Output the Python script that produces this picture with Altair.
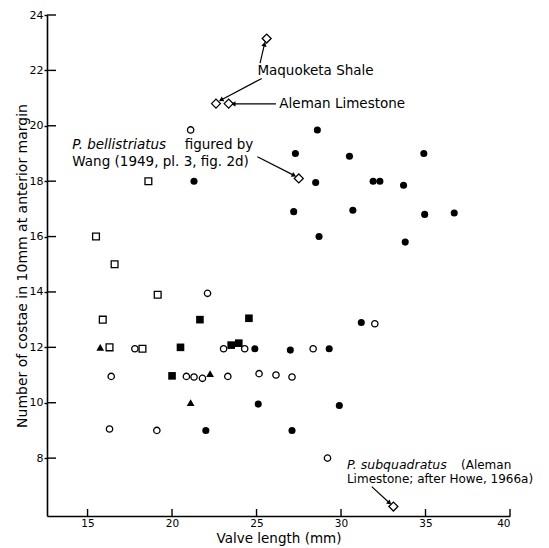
import math
import altair as alt
import pandas as pd

# ---------------- data (valve length mm, costae per 10 mm) ----------------
filled_circle_x = [21.3, 28.6, 27.3, 30.5, 34.9, 28.5, 31.9, 32.3, 33.7, 27.2, 30.7, 34.95, 36.7,
                   28.7, 33.8, 24.9, 27.0, 29.3, 31.2, 25.1, 29.9, 22.0, 27.1]
filled_circle_y = [18.0, 19.85, 19.0, 18.9, 19.0, 17.95, 18.0, 18.0, 17.85, 16.9, 16.95, 16.8, 16.85,
                   16.0, 15.8, 11.95, 11.9, 11.95, 12.9, 9.95, 9.9, 9.0, 9.0]

open_circle_x = [21.1, 22.1, 17.8, 23.05, 24.3, 28.35, 16.4, 20.85, 21.3, 21.8, 23.3, 25.15, 26.15,
                 27.1, 32.0, 16.3, 19.1, 29.2]
open_circle_y = [19.85, 13.95, 11.95, 11.95, 11.95, 11.95, 10.95, 10.95, 10.93, 10.88, 10.95, 11.05, 11.0,
                 10.93, 12.85, 9.05, 9.0, 8.0]

open_square_x = [18.6, 15.5, 16.6, 19.15, 15.9, 16.3, 18.25]
open_square_y = [18.0, 16.0, 15.0, 13.9, 13.0, 12.0, 11.95]

filled_square_x = [21.65, 24.55, 20.5, 23.5, 23.95, 20.0]
filled_square_y = [13.0, 13.05, 12.0, 12.08, 12.15, 10.97]

triangle_x = [15.75, 22.25, 21.1]
triangle_y = [12.0, 11.05, 10.0]

diamond_x = [25.6, 22.6, 23.35, 27.5, 33.1]
diamond_y = [23.15, 20.8, 20.8, 18.1, 6.25]

x_ticks = [15, 20, 25, 30, 35, 40]
y_ticks = [8, 10, 12, 14, 16, 18, 20, 22, 24]

# annotations (anchored in data coordinates)
note_text = ["Maquoketa Shale", "Aleman Limestone", "figured by", "Wang (1949, pl. 3, fig. 2d)"]
note_x = [25.05, 26.35, 20.75, 14.1]
note_y = [21.98, 20.8, 19.3, 18.68]
italic_text = ["P. bellistriatus"]
italic_x = [14.1]
italic_y = [19.3]

small_text = ["(Aleman", "Limestone; after Howe, 1966a)"]
small_x = [37.1, 30.35]
small_y = [7.75, 7.24]
small_italic_text = ["P. subquadratus"]
small_italic_x = [30.35]
small_italic_y = [7.75]

arrow_x1 = [25.21, 25.31, 26.15, 25.05, 31.82]
arrow_y1 = [22.26, 21.71, 20.79, 18.88, 6.97]
arrow_x2 = [25.47, 22.9, 23.62, 27.22, 32.87]
arrow_y2 = [22.95, 20.93, 20.79, 18.21, 6.38]

# ---------------- layout ----------------
W, H = 463, 501
XDOM = [12.6, 40]
YDOM = [5.91, 24]
FONT = "DejaVu Sans"

xs = alt.Scale(domain=XDOM, nice=False, zero=False)
ys = alt.Scale(domain=YDOM, nice=False, zero=False)

px_x = W / (XDOM[1] - XDOM[0])
px_y = H / (YDOM[1] - YDOM[0])


def df(x, y):
    return pd.DataFrame({"x": x, "y": y})


def pts(x, y, shape, filled, size, sw=1.2):
    m = alt.Chart(df(x, y)).mark_point(
        shape=shape, filled=filled, size=size, strokeWidth=sw,
        color="black", fill="black" if filled else "white", opacity=1,
        fillOpacity=1,
    )
    return m.encode(x=alt.X("x:Q", scale=xs), y=alt.Y("y:Q", scale=ys))


def texts(x, y, t, size, italic=False):
    kw = dict(align="left", baseline="middle", font=FONT, fontSize=size, color="black")
    if italic:
        kw["fontStyle"] = "italic"
    return alt.Chart(pd.DataFrame({"x": x, "y": y, "t": t})).mark_text(**kw).encode(
        x=alt.X("x:Q", scale=xs), y=alt.Y("y:Q", scale=ys), text="t:N")


base_axes = alt.Chart(df(x_ticks, [YDOM[0]] * len(x_ticks))).mark_point(opacity=0).encode(
    x=alt.X("x:Q", scale=xs, title="Valve length (mm)",
            axis=alt.Axis(values=x_ticks, tickSize=0, labelPadding=2, grid=False,
                          labelFont=FONT, labelFontSize=10.5, labelColor="black",
                          titleFont=FONT, titleFontSize=13.5, titleFontWeight="normal",
                          titleColor="black", titlePadding=3,
                          domainColor="black", domainWidth=1.6)),
    y=alt.Y("y:Q", scale=ys, title="Number of costae in 10mm at anterior margin",
            axis=alt.Axis(values=y_ticks, tickSize=3, tickColor="black", tickWidth=1.4,
                          labelPadding=1, grid=False,
                          labelFont=FONT, labelFontSize=11, labelColor="black",
                          titleFont=FONT, titleFontSize=14, titleFontWeight="normal",
                          titleColor="black", titlePadding=0,
                          domainColor="black", domainWidth=1.6)),
)

xtick_in = alt.Chart(pd.DataFrame({"x": x_ticks})).mark_rule(color="black", strokeWidth=1.4).encode(
    x=alt.X("x:Q", scale=xs), y=alt.value(H - 7), y2=alt.value(H))
ytick_in = alt.Chart(pd.DataFrame({"y": y_ticks})).mark_rule(color="black", strokeWidth=1.4).encode(
    y=alt.Y("y:Q", scale=ys), x=alt.value(0), x2=alt.value(9))

arrows = pd.DataFrame({"x": arrow_x1, "y": arrow_y1, "x2": arrow_x2, "y2": arrow_y2})
arrows["angle"] = [
    (math.degrees(math.atan2((b - a) * px_x, (d - c) * px_y)) + 360) % 360
    for a, b, c, d in zip(arrow_x1, arrow_x2, arrow_y1, arrow_y2)
]
arrow_lines = alt.Chart(arrows).mark_rule(color="black", strokeWidth=1.2).encode(
    x=alt.X("x:Q", scale=xs), y=alt.Y("y:Q", scale=ys), x2="x2:Q", y2="y2:Q")
arrow_heads = alt.Chart(arrows).mark_point(shape="triangle-up", filled=True, size=28,
                                           color="black", opacity=1).encode(
    x=alt.X("x2:Q", scale=xs), y=alt.Y("y2:Q", scale=ys),
    angle=alt.Angle("angle:Q", scale=None))

chart = alt.layer(
    base_axes,
    xtick_in, ytick_in,
    arrow_lines, arrow_heads,
    pts(open_circle_x, open_circle_y, "circle", False, 40, 1.3),
    pts(filled_circle_x, filled_circle_y, "circle", True, 50),
    pts(open_square_x, open_square_y, "square", False, 46, 1.3),
    pts(filled_square_x, filled_square_y, "square", True, 58),
    pts(triangle_x, triangle_y, "triangle-up", True, 60),
    pts(diamond_x, diamond_y, "diamond", False, 80, 1.3),
    texts(note_x, note_y, note_text, 13.5),
    texts(italic_x, italic_y, italic_text, 13.5, italic=True),
    texts(small_x, small_y, small_text, 12),
    texts(small_italic_x, small_italic_y, small_italic_text, 12.5, italic=True),
).properties(
    width=W, height=H,
    autosize=alt.AutoSizeParams(type="none"),
    padding={"left": 47, "top": 15, "right": 39, "bottom": 32},
    background="white",
).configure_view(stroke=None)

chart.save("out.html", embed_options={"renderer": "svg", "actions": False})
